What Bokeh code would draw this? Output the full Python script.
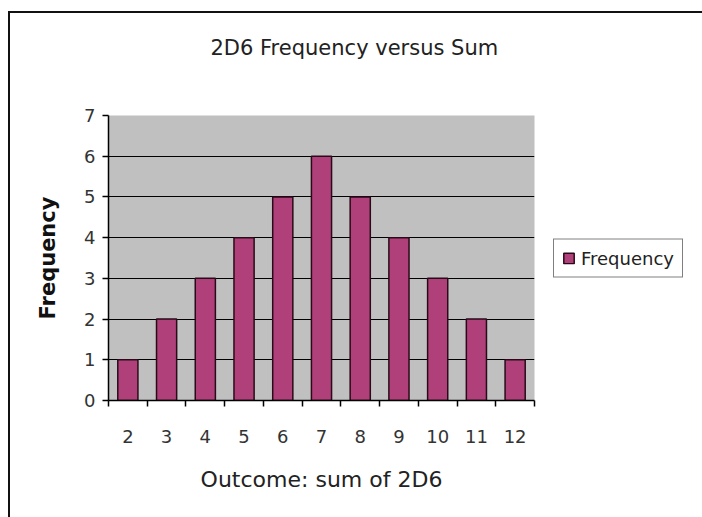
from bokeh.plotting import figure
from bokeh.models import ColumnDataSource, Range1d, FixedTicker, Legend, LegendItem, Title
from bokeh.embed import file_html
from bokeh.resources import INLINE

# ---- data ----
sums = [2, 3, 4, 5, 6, 7, 8, 9, 10, 11, 12]
frequency = [1, 2, 3, 4, 5, 6, 5, 4, 3, 2, 1]
y_ticks = [0, 1, 2, 3, 4, 5, 6, 7]
title_text = "2D6 Frequency versus Sum"
x_title = "Outcome: sum of 2D6"
y_title = "Frequency"
series_name = "Frequency"

FONT = "DejaVu Sans"
BAR = "#B0407A"

src = ColumnDataSource(dict(x=sums, top=frequency))
bounds = [s - 0.5 for s in sums] + [sums[-1] + 0.5]

p = figure(frame_width=426, frame_height=285, output_backend="svg", toolbar_location=None,
           title=None,
           x_range=Range1d(bounds[0], bounds[-1]), y_range=Range1d(0, 7))
p.styles = {"border-left": "2px solid #111", "border-top": "2px solid #111",
            "margin-top": "11px", "margin-left": "8px"}

p.min_border_left = 98
p.min_border_right = 0
p.min_border_top = 102
p.min_border_bottom = 117

p.background_fill_color = "#C0C0C0"
p.border_fill_color = "white"
p.outline_line_color = None

# spacer between title and plot area (nearest the frame), then the title
spacer = Title(text=" ", text_font_size="10px", standoff=25)
p.add_layout(spacer, "above")
main_title = Title(text=title_text, align="left", offset=102, standoff=36,
                   text_font=FONT, text_font_size="21px", text_font_style="normal",
                   text_color="#222")
p.add_layout(main_title, "above")

r = p.vbar(x="x", top="top", width=0.52, source=src, fill_color=BAR,
           line_color="#2a0a18", line_width=1.5)

# x axis
xa = p.xaxis[0]
xa.ticker = FixedTicker(ticks=sums, minor_ticks=bounds)
xa.major_tick_out = 0
xa.major_tick_in = 0
xa.minor_tick_out = 6
xa.minor_tick_in = 0
xa.minor_tick_line_color = "black"
xa.minor_tick_line_width = 1.5
xa.axis_line_color = "black"
xa.axis_line_width = 1.5
xa.major_label_standoff = 23
xa.major_label_text_font = FONT
xa.major_label_text_font_size = "18px"
xa.major_label_text_color = "#333"
xa.axis_label = x_title
xa.axis_label_text_font = FONT
xa.axis_label_text_font_size = "22px"
xa.axis_label_text_font_style = "normal"
xa.axis_label_text_color = "#222"
xa.axis_label_standoff = 21

# y axis
ya = p.yaxis[0]
ya.ticker = FixedTicker(ticks=y_ticks)
ya.major_tick_out = 6
ya.major_tick_in = 0
ya.minor_tick_out = 0
ya.minor_tick_in = 0
ya.major_tick_line_color = "black"
ya.major_tick_line_width = 1.5
ya.axis_line_color = "black"
ya.axis_line_width = 1.5
ya.major_label_standoff = 7
ya.major_label_text_font = FONT
ya.major_label_text_font_size = "18px"
ya.major_label_text_color = "#333"
ya.axis_label = y_title
ya.axis_label_text_font = FONT
ya.axis_label_text_font_size = "21px"
ya.axis_label_text_font_style = "bold"
ya.axis_label_text_color = "#111"
ya.axis_label_standoff = 21

p.xgrid.grid_line_color = None
p.ygrid.grid_line_color = "black"
p.ygrid.grid_line_width = 1.2
p.ygrid.ticker = FixedTicker(ticks=y_ticks)

legend = Legend(items=[LegendItem(label=series_name, renderers=[r])],
                location="left")
legend.label_text_font = FONT
legend.label_text_font_size = "18px"
legend.label_text_color = "#222"
legend.glyph_width = 13
legend.glyph_height = 13
legend.label_standoff = 6
legend.padding = 8
legend.margin = 19
legend.spacing = 0
legend.border_line_color = "black"
legend.border_line_width = 1.5
legend.background_fill_color = "white"
legend.background_fill_alpha = 1
p.add_layout(legend, "right")

open("out.html", "w").write(file_html(p, INLINE))
